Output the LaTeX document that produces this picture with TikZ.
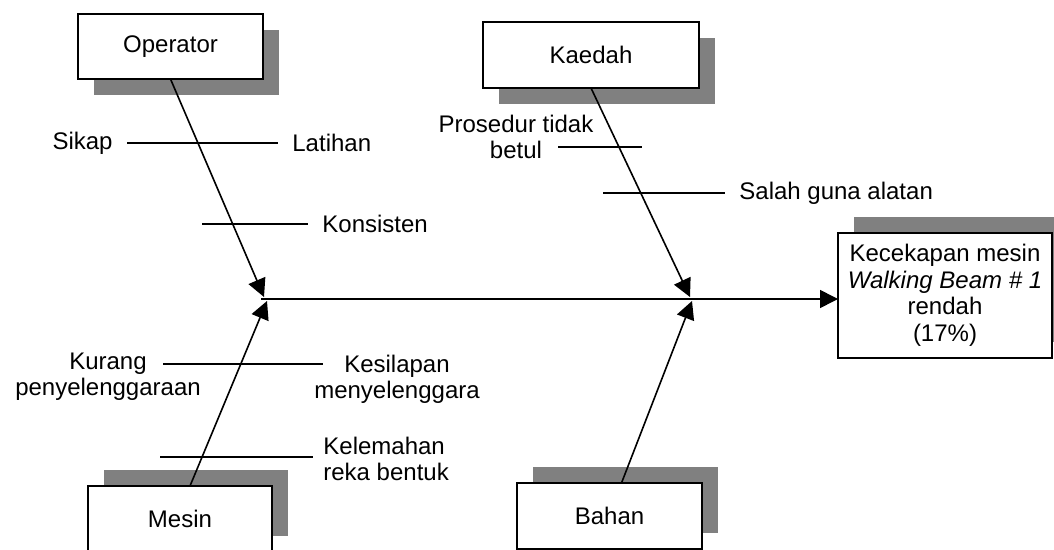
\documentclass[tikz,border=0pt]{standalone}
\usepackage{fontspec}
\setmainfont{Liberation Sans}
\usepackage{tikz}
\usetikzlibrary{positioning,arrows.meta,shadows}
\definecolor{shadowgray}{HTML}{808080}
\tikzset{
box/.style={draw, fill=white, line width=0.8pt, inner sep=0pt, outer sep=0pt, font=\fontsize{12}{13}\selectfont},
shadow down/.style={drop shadow={shadow xshift=8pt, shadow yshift=-8pt, fill=shadowgray, opacity=1}},
shadow up/.style={drop shadow={shadow xshift=8pt, shadow yshift=8pt, fill=shadowgray, opacity=1}},
lbl/.style={inner xsep=7pt, inner ysep=0pt, font=\fontsize{12}{13}\selectfont},
lbl2/.style={inner sep=0pt, align=center, font=\fontsize{12}{13}\selectfont},
bone/.style={line width=0.8pt, -{Triangle[length=9pt,width=9pt]}},
rib/.style={line width=0.8pt}
}

\begin{document}
\begin{tikzpicture}[x=0.5pt, y=-0.5pt]
   \useasboundingbox (0,0) rectangle (1054,550);
   \node[box, shadow down, minimum width=92.5pt, minimum height=32.5pt] (op) at (170.5,46.5) {Operator};
   \node[box, shadow down, minimum width=108pt, minimum height=33pt] (kd) at (591,55) {Kaedah};
   \node[box, shadow up, minimum width=92pt, minimum height=33pt] (ms) at (180,519) {Mesin};
   \node[box, shadow up, minimum width=92.5pt, minimum height=33pt] (bh) at (609.5,516) {Bahan};
   \node[box, shadow up, minimum width=107pt, minimum height=62.5pt, align=center,
         font=\fontsize{12}{13.25}\selectfont] (eff) at (945,295.5)
         {Kecekapan mesin\\\textit{Walking Beam \# 1}\\rendah\\(17\%)};

   \coordinate (j1) at (261,299);
   \coordinate (ta1) at (264,297);
   \coordinate (tb1) at (267,301);
   \coordinate (ta2) at (690,297);
   \coordinate (tb2) at (692,301);
   \draw[bone] (j1) -- (j1 -| eff.west);
   \draw[bone] (op.south) -- (ta1);
   \draw[bone] ([xshift=5pt]ms.north) -- (tb1);
   \draw[bone] (kd.south) -- (ta2);
   \draw[bone] ([xshift=6pt]bh.north) -- (tb2);

   \node[lbl, anchor=east] (sikap) at (127,143) {Sikap};
   \node[lbl, anchor=west] (latihan) at (278,143) {Latihan};
   \draw[rib] (sikap.east) -- (latihan.west);

   \coordinate (k0) at (202,224);
   \node[lbl, anchor=west] (konsisten) at (308,224) {Konsisten};
   \draw[rib] (k0) -- (konsisten.west);

   \node[lbl2, anchor=north] (prosedur) at (516,115) {Prosedur tidak\\betul};
   \coordinate (p0) at (558,147);
   \coordinate (p1) at (642,147);
   \draw[rib] (p0) -- (p1);

   \coordinate (a0) at (603,193);
   \node[lbl, anchor=west] (salah) at (725,193) {Salah guna alatan};
   \draw[rib] (a0) -- (salah.west);

   \node[lbl2, anchor=north] (kurang) at (108,353) {Kurang\\penyelenggaraan};
   \node[lbl2, anchor=north] (kesilapan) at (397,355) {Kesilapan\\menyelenggara};
   \coordinate (c0) at (163,364);
   \coordinate (c1) at (323,364);
   \draw[rib] (c0) -- (c1);

   \coordinate (e0) at (160,457);
   \coordinate (e1) at (313,457);
   \node[lbl2, align=left, anchor=north west] (kelemahan) at (323,437) {Kelemahan\\reka bentuk};
   \draw[rib] (e0) -- (e1);
\end{tikzpicture}
\end{document}
